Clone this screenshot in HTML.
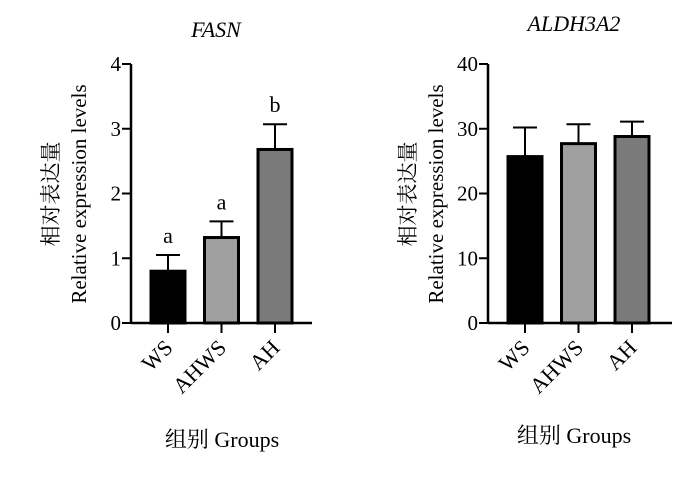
<!DOCTYPE html>
<html><head><meta charset="utf-8"><style>
body{margin:0;background:#fff}
svg{display:block}
text{font-family:"Liberation Serif","Noto Serif CJK SC",serif;fill:#000}
</style></head><body>
<svg id="s" width="700" height="482" viewBox="0 0 700 482"></svg>
<script>
const categories=["WS","AHWS","AH"];
const fasnValues=[0.80,1.32,2.68];
const fasnErrors=[1.05,1.57,3.07];
const fasnLetters=["a","a","b"];
const fasnTicks=[0,1,2,3,4];
const aldhValues=[25.7,27.7,28.8];
const aldhErrors=[30.2,30.7,31.1];
const aldhTicks=[0,10,20,30,40];
const fills=["#000000","#a0a0a0","#7a7a7a"];
const NS="http://www.w3.org/2000/svg";
const svg=document.getElementById('s');
function el(t,a,p){const e=document.createElementNS(NS,t);for(const k in a)e.setAttribute(k,a[k]);(p||svg).appendChild(e);return e;}
function panel(cfg){
  const g=el('g',{});
  
  
  const y0=323,yTop=64,max=cfg.ticks[cfg.ticks.length-1];
  const y=v=>y0-(v/max)*(y0-yTop);
  const ax=cfg.ax;
  const t=el('text',{x:cfg.titleX,y:cfg.titleY,'font-size':22,'font-style':'italic','text-anchor':'middle'},g);t.textContent=cfg.title;
  
  cfg.values.forEach((v,i)=>{
    const cx=ax+37+i*cfg.step, w=34;
    const eb=el('line',{x1:cx,x2:cx,y1:y(v),y2:y(cfg.errors[i]),stroke:'#000','stroke-width':2},g);
    
    const cap=el('line',{x1:cx-12,x2:cx+12,y1:y(cfg.errors[i]),y2:y(cfg.errors[i]),stroke:'#000','stroke-width':2},g);
    
    const r=el('rect',{x:cx-w/2,y:y(v),width:w,height:y0-y(v),fill:cfg.fills[i],stroke:'#000','stroke-width':3},g);
    
    const tk=el('line',{x1:cx,x2:cx,y1:y0,y2:y0+10,stroke:'#000','stroke-width':2},g);
    
    const lb=el('text',{x:cx+6,y:y0+26,'font-size':22,'text-anchor':'end',transform:`rotate(-45 ${cx+6} ${y0+26})`},g);lb.textContent=categories[i];
    
    if(cfg.letters){const L=el('text',{x:cx,y:y(cfg.errors[i])-12,'font-size':22,'text-anchor':'middle'},g);L.textContent=cfg.letters[i];
      }
  });
  const xa=el('line',{x1:ax,x2:cfg.axEnd,y1:y0,y2:y0,stroke:'#000','stroke-width':2.5},g);
  
  const ya=el('line',{x1:ax,x2:ax,y1:yTop,y2:y0,stroke:'#000','stroke-width':2.5},g);
  
  cfg.ticks.forEach(tv=>{
    const l=el('line',{x1:ax-9,x2:ax,y1:y(tv),y2:y(tv),stroke:'#000','stroke-width':2},g);
    
    const tt=el('text',{x:ax-10,y:y(tv)+7,'font-size':21,'text-anchor':'end'},g);tt.textContent=tv;
    
  });
  const yt=el('text',{transform:`translate(${ax-73} 194) rotate(-90)`,'font-size':21,'text-anchor':'middle'},g);
  
  const t1=el('tspan',{x:0,y:0},yt);t1.textContent='相对表达量';
  const t2=el('tspan',{x:0,y:28},yt);t2.textContent='Relative expression levels';
  const xt=el('text',{x:cfg.xtX,y:cfg.xtY,'font-size':22,'text-anchor':'middle'},g);xt.textContent='组别 Groups';
  
}
panel({name:'fasn-chart',title:'FASN',titleX:216,titleY:37,ax:131,axEnd:312,step:53.5,values:fasnValues,errors:fasnErrors,letters:fasnLetters,ticks:fasnTicks,fills:fills,xtX:222,xtY:447});
panel({name:'aldh3a2-chart',title:'ALDH3A2',titleX:574,titleY:31,ax:488,axEnd:672,step:53.5,values:aldhValues,errors:aldhErrors,letters:null,ticks:aldhTicks,fills:fills,xtX:574,xtY:443});
</script>
</body></html>
